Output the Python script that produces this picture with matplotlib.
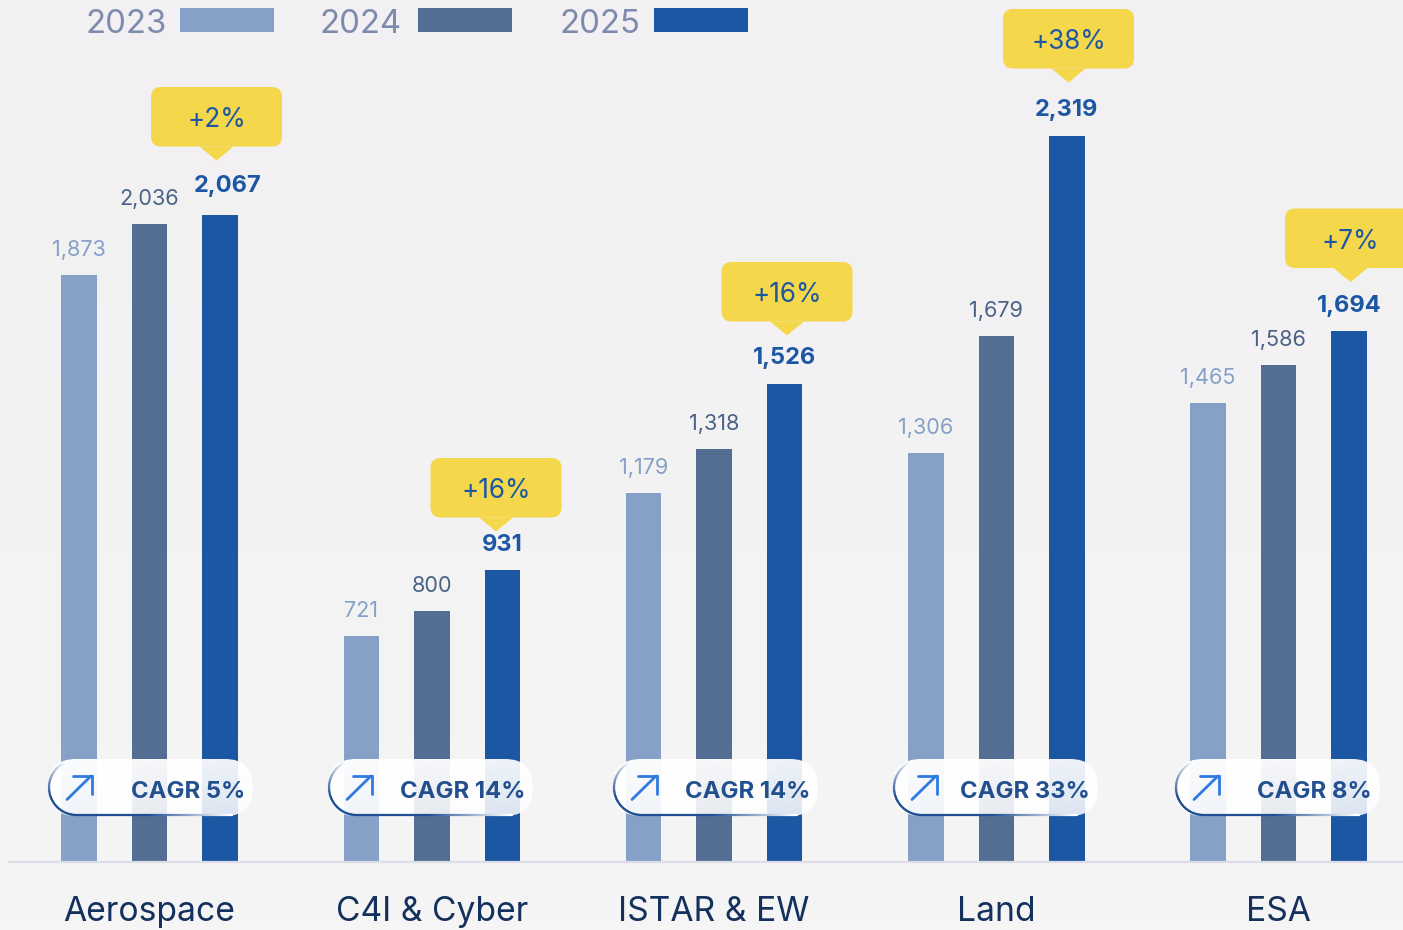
import numpy as np
import matplotlib
matplotlib.use("Agg")
import matplotlib.pyplot as plt
from matplotlib.patches import FancyBboxPatch, Polygon
from matplotlib.collections import LineCollection
from matplotlib.colors import to_rgb

plt.rcParams['font.family'] = ['Inter', 'DejaVu Sans']

categories = ["Aerospace", "C4I & Cyber", "ISTAR & EW", "Land", "ESA"]
years = ["2023", "2024", "2025"]
values_2023 = [1873, 721, 1179, 1306, 1465]
values_2024 = [2036, 800, 1318, 1679, 1586]
values_2025 = [2067, 931, 1526, 2319, 1694]
growth = ["+2%", "+16%", "+16%", "+38%", "+7%"]
cagr = ["CAGR 5%", "CAGR 14%", "CAGR 14%", "CAGR 33%", "CAGR 8%"]

W, H = 1403, 930
fig = plt.figure(figsize=(W / 100, H / 100), dpi=100, facecolor="#f3f2f3")

# soft page background
bg = fig.add_axes([0, 0, 1, 1], zorder=0)
bg.axis("off")
top_c, bot_c = np.array(to_rgb("#f2f0f2")), np.array(to_rgb("#f5f5f5"))
t = np.linspace(0, 1, 64)[:, None, None]
bg.imshow(top_c[None, None, :] * (1 - t) + bot_c[None, None, :] * t, aspect="auto", extent=(0, 1, 1, 0))

S = 0.3128
BASE = 861.3
ax = fig.add_axes([0, 0, 1, 1], zorder=1)
ax.set_xlim(-0.5296, 4.4404)
ax.set_ylim(-(H - BASE) / S, BASE / S)
ax.axis("off")
ax.patch.set_alpha(0)
ov = fig.add_axes([0, 0, 1, 1], zorder=5)
ov.axis("off")
ov.patch.set_alpha(0)

colors = ["#86a0c8", "#546d93", "#1c57a4"]
label_colors = ["#86a0c8", "#4a6285", "#1c57a4"]
x = np.arange(len(categories))
offset, width = 0.2497, 0.1258
for k, (vals, c, lc) in enumerate(zip([values_2023, values_2024, values_2025], colors, label_colors)):
    pos = x + (k - 1) * offset
    ax.bar(pos, vals, width=width, color=c, linewidth=0, zorder=2)
    for i, (p, v) in enumerate(zip(pos, vals)):
        first_bold = (k == 2 and i == 0)
        ax.annotate(f"{v:,}", (p + (0.027 if first_bold else 0), v),
                    xytext=(0, (18 if first_bold else 14.5) if k == 2 else 15), textcoords="offset pixels",
                    ha="center", va="bottom", fontsize=17 if k == 2 else 15.6,
                    fontweight="bold" if k == 2 else "normal", color=lc)

for xi, name in zip(x, categories):
    ax.annotate(name, (xi, 0), xytext=(0, -50.5), textcoords="offset pixels", ha="center", va="center",
                fontsize=24.2, color="#14305c")

# callouts
callout_x = [216.5, 496, 787, 1068.5, 1350.5]
callout_top = [87, 458, 262, 9, 208.5]
for cx, top, g in zip(callout_x, callout_top, growth):
    bot = top + 59.5
    ov.add_patch(FancyBboxPatch((cx - 55.5, top + 10), 111, bot - top - 20,
                                boxstyle="round,pad=10,rounding_size=10", fc="#f4d74b", ec="none", zorder=4))
    ov.add_patch(Polygon([[cx - 17, bot], [cx + 17, bot], [cx, bot + 14]], fc="#f4d74b", ec="none", zorder=4))
    ov.text(cx, (top + bot) / 2 + 3.5, g, ha="center", va="center", fontsize=18.8, color="#1c57a4", zorder=5)

# CAGR pills
pill_left = [48, 328, 613, 893, 1175]
pill_w = 205
ptop, pbot = 759, 816
edge = np.array(to_rgb("#1f4f94"))
white = np.array([1.0, 1.0, 1.0])
u, v = np.meshgrid(np.linspace(0, 1, 64), np.linspace(0, 1, 32))
for pl, label in zip(pill_left, cagr):
    body = FancyBboxPatch((pl + 28, ptop + 28), pill_w - 56, pbot - ptop - 56,
                          boxstyle="round,pad=28,rounding_size=28", fc="none", ec="none", zorder=3)
    ov.add_patch(body)
    rgba = np.ones((32, 64, 4))
    rgba[..., 3] = 0.98 - 0.09 * v - 0.05 * u
    img = ov.imshow(rgba, extent=(pl, pl + pill_w, pbot, ptop), aspect="auto", zorder=3, interpolation="bilinear")
    img.set_clip_path(body)
    # fading edge on left and bottom, kept inside the pill so the faded end stays hidden
    th = np.linspace(np.pi * 0.62, np.pi * 1.5, 30)
    ex = np.r_[pl + 28.5 + 27.5 * np.cos(th), np.linspace(pl + 30, pl + 184, 50)]
    ey = np.r_[(ptop + pbot) / 2 - 27.5 * np.sin(th), np.full(50, pbot - 1)]
    pts = np.column_stack([ex, ey])
    segs = np.stack([pts[:-1], pts[1:]], axis=1)
    n = len(segs)
    a = np.interp(np.arange(n), [0, 16, 52, n - 1], [0, 1, 1, 0])[:, None]
    ov.add_collection(LineCollection(segs, colors=edge * a + white * (1 - a), linewidths=1.6,
                                     capstyle="round", zorder=4))
    # arrow
    ov.plot([pl + 19, pl + 43], [799.5, 776], color="#2f7ae0", lw=2, zorder=5, solid_capstyle="round")
    ov.plot([pl + 25, pl + 44, pl + 44], [775.7, 775.7, 794], color="#2f7ae0", lw=2, zorder=5,
            solid_capstyle="round", solid_joinstyle="miter")
    ov.text(pl + 197, 792, label, ha="right", va="center", fontsize=17.2, fontweight="bold",
            color="#22508f", zorder=5)

# baseline
ov.plot([8, W], [861.8, 861.8], color="#dcdde9", lw=1.6, zorder=3, solid_capstyle="butt")

# legend
legend_text_x = [85.5, 320, 559.5]
legend_bar_x = [180, 418, 654]
for tx, bx, y, c in zip(legend_text_x, legend_bar_x, years, colors):
    ov.text(tx, 24.5, y, ha="left", va="center", fontsize=23.7, color="#7d8bad", fontweight="normal")
    ov.fill_between([bx, bx + 94], 8, 32, color=c, lw=0)

ov.set_xlim(0, W)
ov.set_ylim(H, 0)
fig.savefig("out.png", dpi=100, facecolor=fig.get_facecolor())
